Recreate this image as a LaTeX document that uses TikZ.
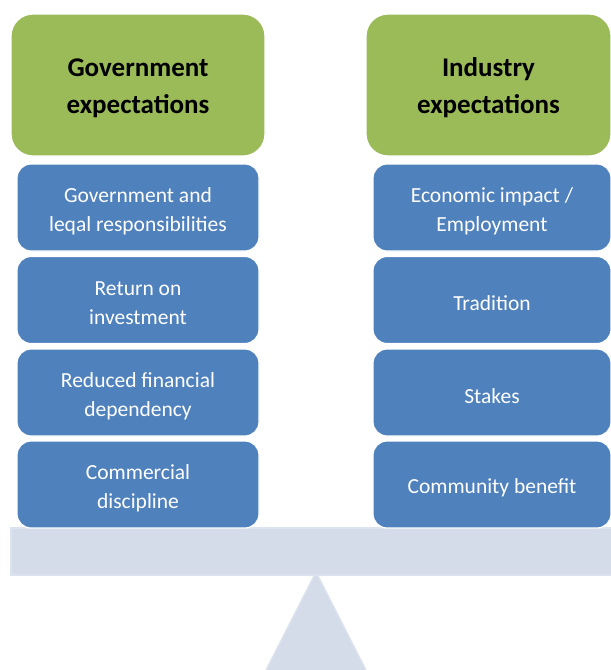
\documentclass[tikz,border=0pt]{standalone}
\usepackage{fontspec}
\setmainfont{Carlito}
\definecolor{headgreen}{HTML}{9BBB59}
\definecolor{itemblue}{HTML}{4F81BD}
\definecolor{beamfill}{HTML}{D4DCEA}
\definecolor{beamedge}{HTML}{DDE3EE}
\begin{document}
\begin{tikzpicture}[x=1pt,y=-1pt,
  head/.style={fill=headgreen, draw=white, line width=1.2pt, rounded corners=22pt,
    inner sep=0pt, minimum height=142pt},
  headtext/.style={align=center, font=\fontsize{27}{37}\selectfont\bfseries,
    text=black, inner sep=0pt, yshift=-3pt},
  item/.style={fill=itemblue, draw=white, line width=1.2pt, rounded corners=14pt,
    inner sep=0pt, minimum height=87pt},
  itemtext/.style={align=center, font=\fontsize{21.5}{29}\selectfont,
    text=white, inner sep=0pt, yshift=-3.5pt},
  leftitem/.style={item, minimum width=242pt},
  rightitem/.style={item, minimum width=238pt},
  support/.style={fill=beamfill, draw=beamedge, line width=1.5pt}]
\useasboundingbox (0,0) rectangle (611,670);
\begin{scope}
\clip (0,0) rectangle (611,670);
% fulcrum and beam
\path[support] (316,572) -- (372,682) -- (260,682) -- cycle;
\path[support] (11,528) rectangle (613,575);
% column headings
\node[head, minimum width=254pt] (gov) at (138,85) {};
\node[head, minimum width=245pt] (ind) at (488.5,85) {};
\node[headtext] (govt) at (gov.center) {Government\\expectations};
\node[headtext] (indt) at (ind.center) {Industry\\expectations};
% government side
\node[leftitem] (g1) at (138,207.5) {};
\node[leftitem] (g2) at (138,300) {};
\node[leftitem] (g3) at (138,392.5) {};
\node[leftitem] (g4) at (138,484.5) {};
\node[itemtext] (g1t) at (g1.center) {Government and\\leqal responsibilities};
\node[itemtext] (g2t) at (g2.center) {Return on\\investment};
\node[itemtext] (g3t) at (g3.center) {Reduced financial\\dependency};
\node[itemtext] (g4t) at (g4.center) {Commercial\\discipline};
% industry side
\node[rightitem] (i1) at (492,207.5) {};
\node[rightitem] (i2) at (492,300) {};
\node[rightitem] (i3) at (492,392.5) {};
\node[rightitem] (i4) at (492,484.5) {};
\node[itemtext] (i1t) at (i1.center) {Economic impact /\\Employment};
\node[itemtext] (i2t) at (i2.center) {Tradition};
\node[itemtext] (i3t) at (i3.center) {Stakes};
\node[itemtext] (i4t) at (i4.center) {Community benefit};
\end{scope}
\end{tikzpicture}
\end{document}
